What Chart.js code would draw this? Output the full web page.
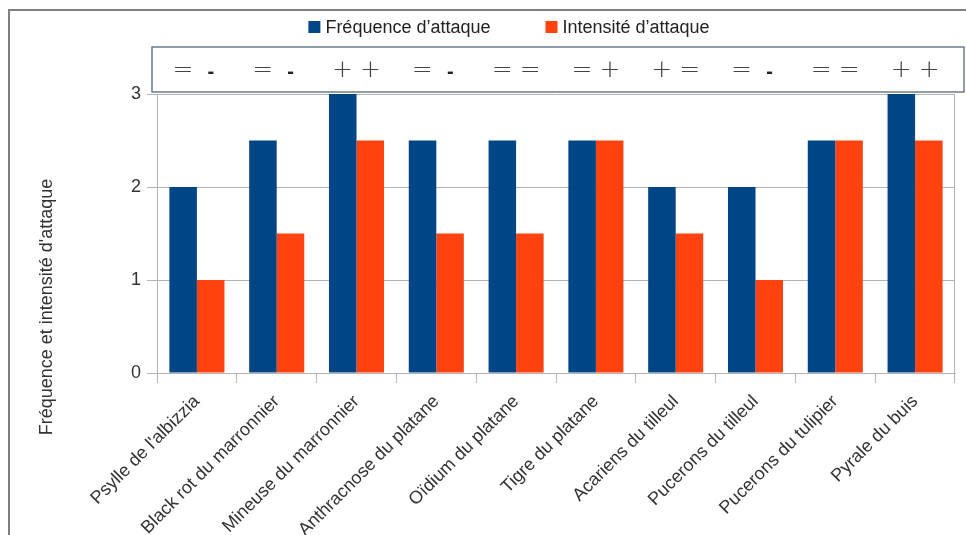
<!DOCTYPE html>
<html>
<head>
<meta charset="utf-8">
<script src="https://cdn.jsdelivr.net/npm/chart.js@4.4.1/dist/chart.umd.min.js"></script>
<style>
    html, body { margin: 0; padding: 0; background: #fff; overflow: hidden; }
    body { width: 966px; height: 535px; position: relative; }
    #frame {
        position: absolute; left: 8px; top: 9px; width: 1200px; height: 800px;
        border-left: 2px solid #808080; border-top: 2px solid #808080;
    }
    #myChart { position: absolute; left: 0; top: 0; }
</style>
</head>
<body>
<div id="frame"></div>
<canvas id="myChart" width="966" height="535"></canvas>
<script>
const categories = [
    "Psylle de l'albizzia", "Black rot du marronnier", "Mineuse du marronnier",
    "Anthracnose du platane", "Oïdium du platane", "Tigre du platane",
    "Acariens du tilleul", "Pucerons du tilleul", "Pucerons du tulipier", "Pyrale du buis"
];
const frequence = [2, 2.5, 3, 2.5, 2.5, 2.5, 2, 2, 2.5, 3];
const intensite = [1, 1.5, 2.5, 1.5, 1.5, 2.5, 1.5, 1, 2.5, 2.5];
const freqSymbols = ["=", "=", "+", "=", "=", "=", "+", "=", "=", "+"];
const intSymbols = ["-", "-", "+", "-", "=", "+", "=", "-", "=", "+"];
const yTicks = [0, 1, 2, 3];
const yTitle = "Fréquence et intensité d'attaque";

const gridColor = "#b3b3b3";
const textColor = "#333";
const font = "Liberation Sans";

// legend, symbol box and y title drawn on top of the chart
const extras = {
    id: "extras",
    afterDraw(chart) {
        const { ctx, chartArea, scales } = chart;
        ctx.save();

        // legend
        ctx.font = "18px '" + font + "'";
        ctx.textBaseline = "middle";
        ctx.textAlign = "left";
        const sets = chart.data.datasets;
        const box = 12, gap = 5, itemGap = 55;
        let total = 0;
        sets.forEach((d, i) => {
            total += box + gap + ctx.measureText(d.label).width;
            if (i > 0) total += itemGap;
        });
        let lx = 509 - total / 2;
        const ly = 27;
        sets.forEach((d) => {
            ctx.fillStyle = d.backgroundColor;
            ctx.fillRect(lx, ly - box / 2, box, box);
            ctx.fillStyle = "#222";
            ctx.fillText(d.label, lx + box + gap, ly + 1);
            lx += box + gap + ctx.measureText(d.label).width + itemGap;
        });

        // symbol box
        const bLeft = chartArea.left - 5, bRight = chartArea.right + 9;
        const bTop = chartArea.top - 47, bBottom = chartArea.top - 2;
        ctx.fillStyle = "#fff";
        ctx.fillRect(bLeft, bTop, bRight - bLeft, bBottom - bTop);
        ctx.strokeStyle = "#56687a";
        ctx.lineWidth = 1.3;
        ctx.strokeRect(bLeft, bTop, bRight - bLeft, bBottom - bTop);

        const drawSymbol = (s, x, y) => {
            if (s === "-") {
                ctx.font = "bold 20px '" + font + "'";
                ctx.fillStyle = "#222";
                ctx.fillText(s, x, y + 3);
            } else {
                ctx.font = "200 25px 'DejaVu Sans'";
                ctx.fillStyle = "#444";
                ctx.fillText(s, x, y + 1);
            }
        };
        ctx.textAlign = "center";
        const sy = (bTop + bBottom) / 2;
        categories.forEach((c, i) => {
            const x = scales.x.getPixelForValue(i);
            drawSymbol(freqSymbols[i], x - 14, sy);
            drawSymbol(intSymbols[i], x + 14, sy);
        });

        // y axis title
        ctx.translate(47, chartArea.bottom - 66);
        ctx.rotate(-Math.PI / 2);
        ctx.font = "18px '" + font + "'";
        ctx.fillStyle = textColor;
        ctx.fillText(yTitle, 0, 0);
        ctx.restore();
    }
};

const ctx = document.querySelector("#myChart");

new Chart(ctx, {
    type: "bar",
    data: {
        labels: categories,
        datasets: [
            {
                label: "Fréquence d’attaque",
                data: frequence,
                backgroundColor: "#004586",
            },
            {
                label: "Intensité d’attaque",
                data: intensite,
                backgroundColor: "#ff420e",
            },
        ],
    },
    options: {
        responsive: false,
        animation: false,
        layout: {
            padding: { left: 0, right: 11, top: 94, bottom: 0 }
        },
        datasets: {
            bar: { categoryPercentage: 0.69, barPercentage: 1 }
        },
        plugins: {
            legend: { display: false },
            tooltip: { enabled: false }
        },
        scales: {
            x: {
                afterFit: (s) => { s.height = 162; },
                grid: {
                    color: (c) => (c.type === "scale" ? gridColor : "transparent"),
                    tickColor: gridColor,
                    tickLength: 10,
                },
                border: { color: gridColor },
                ticks: {
                    autoSkip: false,
                    maxRotation: 45,
                    minRotation: 45,
                    padding: 8,
                    color: textColor,
                    font: { family: font, size: 18 }
                }
            },
            y: {
                min: yTicks[0],
                max: yTicks[yTicks.length - 1],
                afterFit: (s) => { s.width = 157; },
                grid: {
                    color: gridColor,
                    tickColor: gridColor,
                    tickLength: 10,
                },
                border: { color: gridColor },
                ticks: {
                    stepSize: 1,
                    padding: 6,
                    color: textColor,
                    font: { family: font, size: 18 }
                }
            }
        }
    },
    plugins: [extras]
});
</script>
</body>
</html>
